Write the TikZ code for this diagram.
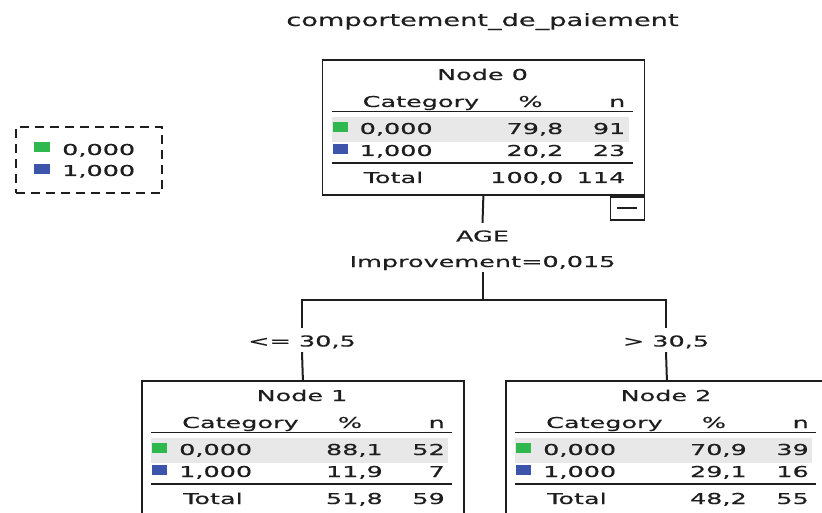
\documentclass[tikz,border=0pt]{standalone}
\usepackage{fontspec}
\setmainfont{DejaVu Sans}[FakeBold=0.3]
\usepackage{graphicx}
\definecolor{catgreen}{HTML}{2EB84E}
\definecolor{catblue}{HTML}{3C54AA}
\definecolor{rowgray}{HTML}{E8E8E8}
\definecolor{ink}{HTML}{1E1E1E}
% wide, spaced-out lettering of the tree viewer
\newcommand\stx[1]{\scalebox{1.7}[1]{#1}}
\tikzset{
  txt/.style={inner sep=0pt, text=ink, font=\fontsize{15pt}{18pt}\selectfont},
  boxframe/.style={draw=ink, line width=1.8pt, minimum width=322pt,
    minimum height=135pt, inner sep=0pt, anchor=north west},
  rule/.style={draw=ink, line width=1.8pt},
  link/.style={draw=ink, line width=2pt},
  edgelabel/.style={txt, anchor=base},
}
% #1 name, #2 top-left corner, #3 title, #4/#5 row 0,000, #6/#7 row 1,000, #8/#9 total
\newcommand\catbox[9]{%
\begin{scope}[shift={(#2)}]
  \fill[rowgray] (10,58) rectangle (307,83);
  \node[boxframe] (#1) at (0,0) {};
  \draw[rule] (10,52.5) -- (311,52.5);
  \draw[rule] (10,104) -- (311,104);
  \fill[catgreen] (11,63) rectangle (26,73);
  \fill[catblue] (11,85) rectangle (26,95);
  \node[txt,anchor=base] (#1-title) at (161,21) {\stx{#3}};
  \node[txt,anchor=base west] (#1-hcat) at (41,48) {\stx{Category}};
  \node[txt,anchor=base] (#1-hpct) at (209,48) {\stx{\%}};
  \node[txt,anchor=base east] (#1-hn) at (304,48) {\stx{n}};
  \node[txt,anchor=base west] (#1-c0) at (38,75) {\stx{0,000}};
  \node[txt,anchor=base east] (#1-p0) at (242,75) {\stx{#4}};
  \node[txt,anchor=base east] (#1-n0) at (304,75) {\stx{#5}};
  \node[txt,anchor=base west] (#1-c1) at (38,97) {\stx{1,000}};
  \node[txt,anchor=base east] (#1-p1) at (242,97) {\stx{#6}};
  \node[txt,anchor=base east] (#1-n1) at (304,97) {\stx{#7}};
  \node[txt,anchor=base west] (#1-tot) at (42,124) {\stx{Total}};
  \node[txt,anchor=base east] (#1-pt) at (242,124) {\stx{#8}};
  \node[txt,anchor=base east] (#1-nt) at (304,124) {\stx{#9}};
\end{scope}}

\begin{document}
\begin{tikzpicture}[x=1pt,y=-1pt]
\useasboundingbox (0,0) rectangle (822,513);
\clip (0,0) rectangle (822,513);

% heading
\node[txt, anchor=base, font=\fontsize{17pt}{20pt}\selectfont] (title) at (482.5,26)
  {\scalebox{1.6}[1]{comportement\_de\_paiement}};

% legend
\node[draw=ink, line width=1.8pt, dash pattern=on 9pt off 6pt, minimum width=146pt,
  minimum height=66pt, anchor=north west, inner sep=0pt] (legend) at (15,126) {};
\fill[catgreen] (34,142.5) rectangle (50,152.5);
\fill[catblue] (34,164.5) rectangle (50,174.5);
\node[txt,anchor=base west] (leg0) at (62,155) {\stx{0,000}};
\node[txt,anchor=base west] (leg1) at (62,176) {\stx{1,000}};

% tree nodes
\catbox{n0}{321.5,59}{Node 0}{79,8}{91}{20,2}{23}{100,0}{114}
\catbox{n1}{141,380}{Node 1}{88,1}{52}{11,9}{7}{51,8}{59}
\catbox{n2}{505,380}{Node 2}{70,9}{39}{29,1}{16}{48,2}{55}

% collapse toggle under the root
\node[draw=ink, line width=1.8pt, minimum width=34pt, minimum height=23pt,
  anchor=north east, inner sep=0pt] (n0-toggle) at (n0.south east) {};
\draw[rule] ([xshift=-10pt]n0-toggle.center) -- ([xshift=10pt]n0-toggle.center);

% split labels
\node[edgelabel, text height=18.5pt, text depth=0pt] (age) at (482.5,241.5) {\stx{AGE}};
\node[edgelabel, text height=12pt, text depth=5pt] (impr) at (482.5,267) {\stx{Improvement=0,015}};
\node[edgelabel, text height=18.5pt, text depth=5.5pt] (lab1) at (302,346.5) {\stx{<= 30,5}};
\node[edgelabel, text height=18.5pt, text depth=5.5pt] (lab2) at (666,346.5) {\stx{> 30,5}};
\coordinate (split) at (482.5,300);
\coordinate (b1) at (302,300);
\coordinate (b2) at (666,300);

% connectors
\draw[link] (n0.south) -- (age.north);
\draw[link] (impr.south) -- (split);
\draw[link] (lab1.north) -- (b1) -- (b2) -- (lab2.north);
\draw[link] (lab1.south) -- (n1.north);
\draw[link] (lab2.south) -- (n2.north);
\end{tikzpicture}
\end{document}
